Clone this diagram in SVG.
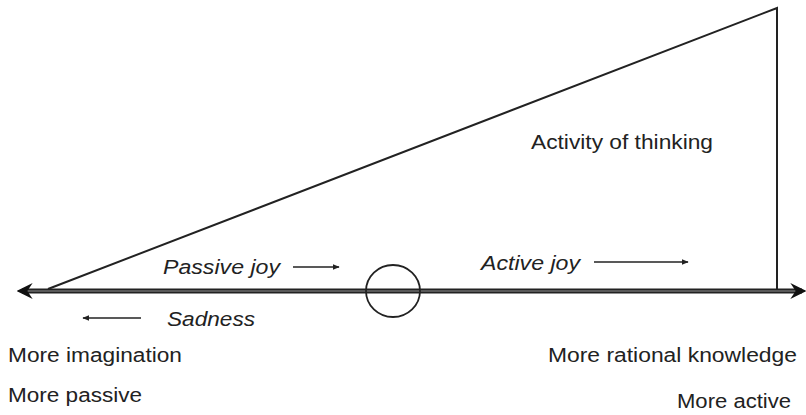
<svg xmlns="http://www.w3.org/2000/svg" width="806" height="415" viewBox="0 0 806 415">
<style>
.t{font-family:"Liberation Sans",Arial,sans-serif;font-size:20px;fill:#222}
.i{font-style:italic}
.ln{stroke:#222;fill:none}
</style>
<defs>
<marker id="ah" viewBox="0 0 10 10" refX="9" refY="5" markerWidth="7" markerHeight="7" orient="auto" markerUnits="userSpaceOnUse">
<path d="M0,1 L10,5 L0,9 z" fill="#222"/>
</marker>
<marker id="big" viewBox="0 0 12 12" refX="11" refY="6" markerWidth="16" markerHeight="16" orient="auto-start-reverse" markerUnits="userSpaceOnUse">
<path d="M0,0 L12,6 L0,12 L4,6 z" fill="#111"/>
</marker>
</defs>
<rect width="806" height="415" fill="#fff"/>
<g id="connectors">
<polyline class="ln" stroke-width="2" points="48,289 777,8 777,290"/>
<line class="ln" x1="22" y1="289.5" x2="802" y2="289.5" stroke-width="1.8"/>
<line class="ln" x1="22" y1="292.5" x2="802" y2="292.5" stroke-width="1.8"/>
<line class="ln" x1="18" y1="291" x2="805" y2="291" stroke-width="1" stroke="#777" marker-start="url(#big)" marker-end="url(#big)"/>
<line class="ln" x1="293" y1="267" x2="339" y2="267" stroke-width="1.3" marker-end="url(#ah)"/>
<line class="ln" x1="594" y1="262" x2="688" y2="262" stroke-width="1.3" marker-end="url(#ah)"/>
<line class="ln" x1="141" y1="318" x2="83" y2="318" stroke-width="1.3" marker-end="url(#ah)"/>
</g>
<g id="circle">
<ellipse cx="393" cy="291" rx="27" ry="26" class="ln" stroke-width="1.8"/>
</g>
<g id="label-thinking"><text class="t" x="531" y="149" textLength="182" lengthAdjust="spacingAndGlyphs">Activity of thinking</text></g>
<g id="label-passive-joy"><text class="t i" x="163" y="274" textLength="117" lengthAdjust="spacingAndGlyphs">Passive joy</text></g>
<g id="label-active-joy"><text class="t i" x="481" y="270" textLength="99" lengthAdjust="spacingAndGlyphs">Active joy</text></g>
<g id="label-sadness"><text class="t i" x="167" y="326" textLength="88" lengthAdjust="spacingAndGlyphs">Sadness</text></g>
<g id="label-imagination"><text class="t" x="8" y="362" textLength="174" lengthAdjust="spacingAndGlyphs">More imagination</text></g>
<g id="label-passive"><text class="t" x="8" y="402" textLength="134" lengthAdjust="spacingAndGlyphs">More passive</text></g>
<g id="label-rational"><text class="t" x="548" y="362" textLength="249" lengthAdjust="spacingAndGlyphs">More rational knowledge</text></g>
<g id="label-active"><text class="t" x="677" y="408" textLength="114" lengthAdjust="spacingAndGlyphs">More active</text></g>
</svg>
